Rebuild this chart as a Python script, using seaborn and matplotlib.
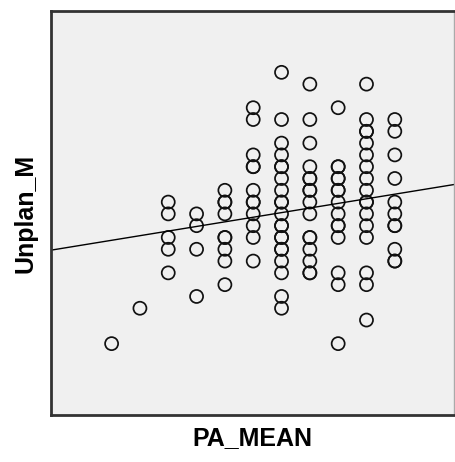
import matplotlib
matplotlib.use("Agg")
import matplotlib.pyplot as plt
import seaborn as sns
import pandas as pd
import numpy as np

# PA_MEAN column positions (1..11) and Unplan_M values
col1 = [1]
y1 = [1]
col2 = [2]
y2 = [4]
col3 = [3] * 5
y3 = [13, 12, 10, 9, 7]
col4 = [4] * 4
y4 = [12, 11, 9, 5]
col5 = [5] * 9
y5 = [14, 13, 13, 12, 10, 10, 9, 8, 6]
col6 = [6] * 12
y6 = [21, 20, 17, 16, 16, 14, 13, 13, 12, 11, 10, 8]
col7 = [7] * 21
y7 = [24, 20, 18, 17, 16, 16, 15, 14, 13, 13, 12, 11, 11, 10, 10, 9, 9, 8, 7, 5, 4]
col8 = [8] * 16
y8 = [23, 20, 18, 16, 15, 15, 14, 14, 13, 12, 10, 10, 9, 8, 7, 7]
col9 = [9] * 15
y9 = [21, 16, 16, 15, 15, 14, 14, 13, 12, 11, 11, 10, 7, 6, 1]
col10 = [10] * 17
y10 = [23, 20, 19, 19, 18, 17, 16, 15, 14, 13, 13, 12, 11, 10, 7, 6, 3]
col11 = [11] * 11
y11 = [20, 19, 17, 15, 13, 12, 11, 11, 9, 8, 8]

# Fit line
fit_intercept = 9.37
fit_slope = 0.391

pa_mean = col1 + col2 + col3 + col4 + col5 + col6 + col7 + col8 + col9 + col10 + col11
unplan_m = y1 + y2 + y3 + y4 + y5 + y6 + y7 + y8 + y9 + y10 + y11
df = pd.DataFrame({"PA_MEAN": pa_mean, "Unplan_M": unplan_m})

sns.set_theme(style="white")
plt.rcParams["font.family"] = ["Liberation Sans", "DejaVu Sans"]

fig = plt.figure(figsize=(4.55, 4.62), dpi=100)
ax = fig.add_axes([51 / 455, (462 - 415) / 462, (454 - 51) / 455, (415 - 11) / 462])
ax.set_facecolor("#f0f0f0")

sns.scatterplot(data=df, x="PA_MEAN", y="Unplan_M", ax=ax, marker="o",
                s=88, facecolors="none", edgecolor="black", linewidth=1.25)
ax.collections[-1].set_facecolor("none")
ax.collections[-1].set_edgecolor("#111111")

ax.axline((0, fit_intercept), slope=fit_slope, color="black", linewidth=1.0)

ax.set_xlim(-1.14, 13.09)
ax.set_ylim(-5.05, 29.2)
ax.set_xticks([])
ax.set_yticks([])

for side in ["left", "bottom", "top"]:
    ax.spines[side].set_color("#333333")
    ax.spines[side].set_linewidth(2.0)
ax.spines["right"].set_color("#aaaaaa")
ax.spines["right"].set_linewidth(1.0)

ax.set_xlabel("PA_MEAN", fontsize=18, fontweight="bold", labelpad=8, color="black")
ax.set_ylabel("Unplan_M", fontsize=18, fontweight="bold", labelpad=10, color="black")

fig.savefig("out.png", dpi=100)
